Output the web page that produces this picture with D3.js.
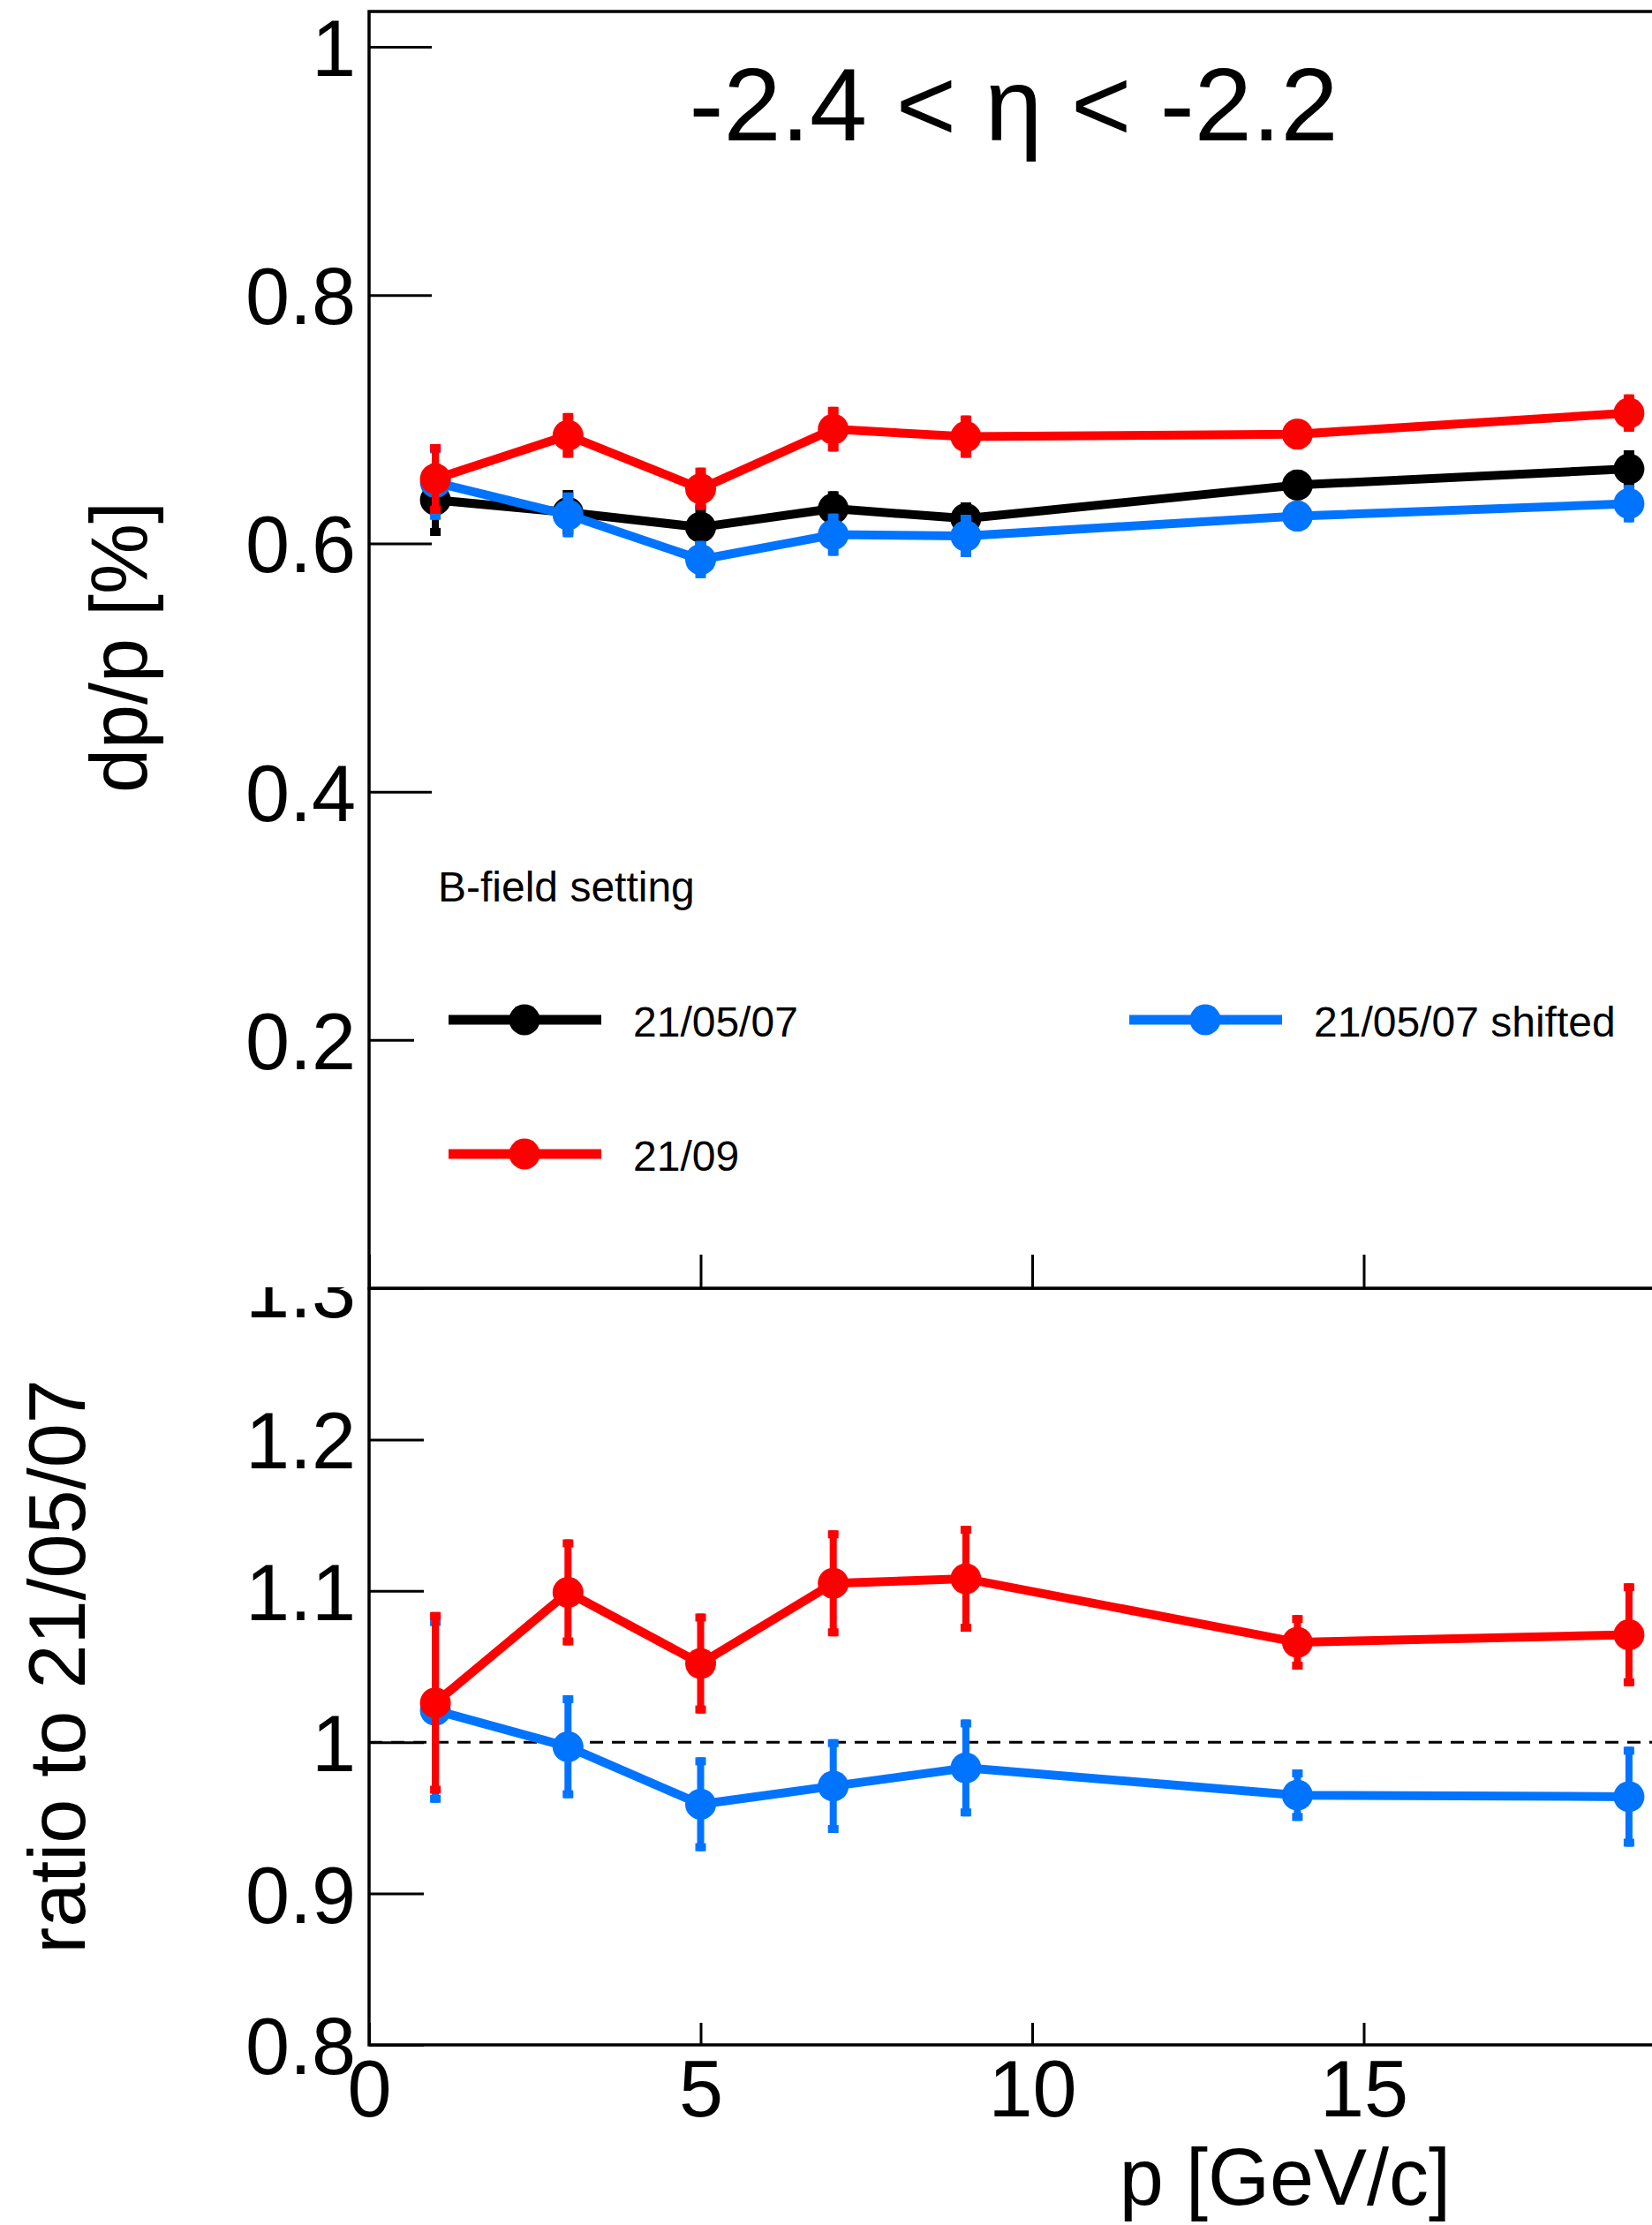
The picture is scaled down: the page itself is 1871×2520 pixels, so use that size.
<!DOCTYPE html>
<html>
<head>
<meta charset="utf-8">
<script src="https://cdn.jsdelivr.net/npm/d3@7"></script>
<style>
body { margin: 0; background: #fff; }
text { font-family: "Liberation Sans", Arial, Helvetica, sans-serif; fill: #000; }
</style>
</head>
<body>
<div id="chart"></div>
<script>

//width and height
var w = 1871;
var h = 2520;

// momentum points [GeV/c]
var pValues = [1, 3, 5, 7, 9, 14, 19];

// dp/p [%] per B-field setting
var res0507 = [0.635, 0.625, 0.613, 0.628, 0.620, 0.647, 0.660];
var err0507 = [0.029, 0.018, 0.018, 0.014, 0.013, 0.012, 0.015];
var resShifted = [0.649, 0.623, 0.587, 0.607, 0.606, 0.622, 0.632];
var errShifted = [0.030, 0.018, 0.015, 0.017, 0.017, 0.012, 0.015];
var res09 = [0.652, 0.687, 0.644, 0.692, 0.686, 0.688, 0.705];
var err09 = [0.028, 0.018, 0.017, 0.018, 0.017, 0.012, 0.015];

// ratios to 21/05/07
var ratio09 = [1.026, 1.099, 1.052, 1.105, 1.108, 1.066, 1.071];
var ratioErr09 = [0.060, 0.035, 0.033, 0.035, 0.035, 0.018, 0.034];
var ratioShifted = [1.021, 0.997, 0.959, 0.971, 0.983, 0.965, 0.964];
var ratioErrShifted = [0.061, 0.034, 0.031, 0.031, 0.032, 0.017, 0.033];

// tick values
var xTicks = [0, 5, 10, 15];
var topTicks = [0.2, 0.4, 0.6, 0.8, 1];
var ratioTicks = [0.8, 0.9, 1, 1.1, 1.2, 1.3];

var legendNames = ["21/05/07", "21/05/07 shifted", "21/09"];

var colBlack = "#000000";
var colRed = "#ff0000";
var colBlue = "#0074ff";

var svg = d3.select("#chart")
            .append("svg")
            .attr("width", w)
            .attr("height", h);

svg.append("rect").attr("width", w).attr("height", h).attr("fill", "#fff");

var x = d3.scaleLinear().domain([0, 20]).range([418, 1920]);
var yTop = d3.scaleLinear().domain([0, 1.0285]).range([1459, 13]);
var yBot = d3.scaleLinear().domain([0.8, 1.3]).range([2316, 1459]);

function pack(vals, errs) {
    return pValues.map(function(p, i) { return {p: p, v: vals[i], e: errs[i]}; });
}

function drawSeries(g, y, data, color) {
    var line = d3.line()
                .x(function(d) { return x(d.p); })
                .y(function(d) { return y(d.v); });
    var s = g.append("g");
    s.append("path")
        .datum(data)
        .attr("d", line)
        .attr("fill", "none")
        .attr("stroke", color)
        .attr("stroke-width", 10)
        .attr("stroke-linejoin", "round");
    s.selectAll("line.err")
        .data(data)
        .enter()
        .append("line")
        .attr("x1", function(d) { return x(d.p); })
        .attr("x2", function(d) { return x(d.p); })
        .attr("y1", function(d) { return y(d.v + d.e); })
        .attr("y2", function(d) { return y(d.v - d.e); })
        .attr("stroke", color)
        .attr("stroke-width", 8);
    // little end caps
    s.selectAll("rect.capTop")
        .data(data)
        .enter()
        .append("rect")
        .attr("x", function(d) { return x(d.p) - 6; })
        .attr("y", function(d) { return y(d.v + d.e); })
        .attr("width", 12)
        .attr("height", 9)
        .attr("fill", color);
    s.selectAll("rect.capBot")
        .data(data)
        .enter()
        .append("rect")
        .attr("x", function(d) { return x(d.p) - 6; })
        .attr("y", function(d) { return y(d.v - d.e) - 9; })
        .attr("width", 12)
        .attr("height", 9)
        .attr("fill", color);
    s.selectAll("circle")
        .data(data)
        .enter()
        .append("circle")
        .attr("cx", function(d) { return x(d.p); })
        .attr("cy", function(d) { return y(d.v); })
        .attr("r", 17.5)
        .attr("fill", color);
}

function styleAxis(g) {
    g.select(".domain").remove();
    g.selectAll(".tick line").attr("stroke", "#000").attr("stroke-width", 3);
    g.selectAll(".tick text")
        .attr("font-size", 90)
        .attr("font-family", "Liberation Sans, Arial, sans-serif")
        .attr("fill", "#000");
}

// ---------- lower pad (ratio) ----------
var lowerPad = svg.append("g");

lowerPad.append("g")
    .attr("transform", "translate(418,0)")
    .call(d3.axisLeft(yBot).tickValues(ratioTicks).tickSize(-62).tickPadding(15).tickFormat(d3.format("")))
    .call(styleAxis)
    .selectAll(".tick text").attr("dy", "0.36em");

lowerPad.append("g")
    .attr("transform", "translate(0,2316)")
    .call(d3.axisBottom(x).tickValues(xTicks).tickSize(-25).tickPadding(17).tickFormat(d3.format("d")))
    .call(styleAxis);

// reference line at 1
lowerPad.append("line")
    .attr("x1", x(0)).attr("x2", x(20))
    .attr("y1", yBot(1)).attr("y2", yBot(1))
    .attr("stroke", "#000")
    .attr("stroke-width", 3)
    .attr("stroke-dasharray", "15,10");

drawSeries(lowerPad, yBot, pack(ratioShifted, ratioErrShifted), colBlue);
drawSeries(lowerPad, yBot, pack(ratio09, ratioErr09), colRed);

lowerPad.append("rect")
    .attr("x", x(0)).attr("y", yBot(1.3))
    .attr("width", x(20) - x(0)).attr("height", yBot(0.8) - yBot(1.3))
    .attr("fill", "none").attr("stroke", "#000").attr("stroke-width", 3.5);

lowerPad.append("text")
    .attr("transform", "translate(96," + yBot(1.05) + ") rotate(-90)")
    .attr("text-anchor", "middle")
    .attr("font-size", 90)
    .text("ratio to 21/05/07");

lowerPad.append("text")
    .attr("x", 1643)
    .attr("y", 2497)
    .attr("text-anchor", "end")
    .attr("font-size", 90)
    .text("p [GeV/c]");

// ---------- upper pad (dp/p) ----------
var upperPad = svg.append("g");

// pad background hides the top of the "1.3" label
upperPad.append("rect").attr("x", 0).attr("y", 0).attr("width", w).attr("height", 1458).attr("fill", "#fff");

upperPad.append("g")
    .attr("transform", "translate(418,0)")
    .call(d3.axisLeft(yTop).tickValues(topTicks).tickSize(-71).tickPadding(15).tickFormat(d3.format("")))
    .call(styleAxis)
    .selectAll(".tick text").attr("dy", "0.36em");

upperPad.append("g")
    .attr("transform", "translate(0,1459)")
    .call(d3.axisBottom(x).tickValues(xTicks).tickSize(-38).tickFormat(""))
    .call(styleAxis);

drawSeries(upperPad, yTop, pack(res0507, err0507), colBlack);
drawSeries(upperPad, yTop, pack(resShifted, errShifted), colBlue);
drawSeries(upperPad, yTop, pack(res09, err09), colRed);

// legend
var leg = upperPad.append("g");
leg.append("rect")
    .attr("x", 469).attr("y", 935)
    .attr("width", 1500).attr("height", 465)
    .attr("fill", "#fff");
leg.append("text")
    .attr("x", 496).attr("y", 1021)
    .attr("font-size", 48)
    .text("B-field setting");

var legEntries = [
    {name: legendNames[0], color: colBlack, lx: 508, ly: 1155},
    {name: legendNames[1], color: colBlue, lx: 1279, ly: 1155},
    {name: legendNames[2], color: colRed, lx: 508, ly: 1307}
];
var le = leg.selectAll("g.entry")
            .data(legEntries)
            .enter()
            .append("g")
            .attr("transform", function(d) { return "translate(" + d.lx + "," + d.ly + ")"; });
le.append("line")
    .attr("x1", 0).attr("x2", 173).attr("y1", 0).attr("y2", 0)
    .attr("stroke", function(d) { return d.color; })
    .attr("stroke-width", 11);
le.append("circle")
    .attr("cx", 86).attr("cy", 0).attr("r", 17.5)
    .attr("fill", function(d) { return d.color; });
le.append("text")
    .attr("x", 209).attr("y", 19)
    .attr("font-size", 48)
    .text(function(d) { return d.name; });

upperPad.append("rect")
    .attr("x", x(0)).attr("y", yTop(1.0285))
    .attr("width", x(20) - x(0)).attr("height", yTop(0) - yTop(1.0285))
    .attr("fill", "none").attr("stroke", "#000").attr("stroke-width", 3.5);

upperPad.append("text")
    .attr("transform", "translate(166,733) rotate(-90)")
    .attr("text-anchor", "middle")
    .attr("font-size", 90)
    .text("dp/p [%]");

upperPad.append("text")
    .attr("x", 1148)
    .attr("y", 159)
    .attr("text-anchor", "middle")
    .attr("font-size", 117)
    .text("-2.4 < η < -2.2");

</script>
</body>
</html>
